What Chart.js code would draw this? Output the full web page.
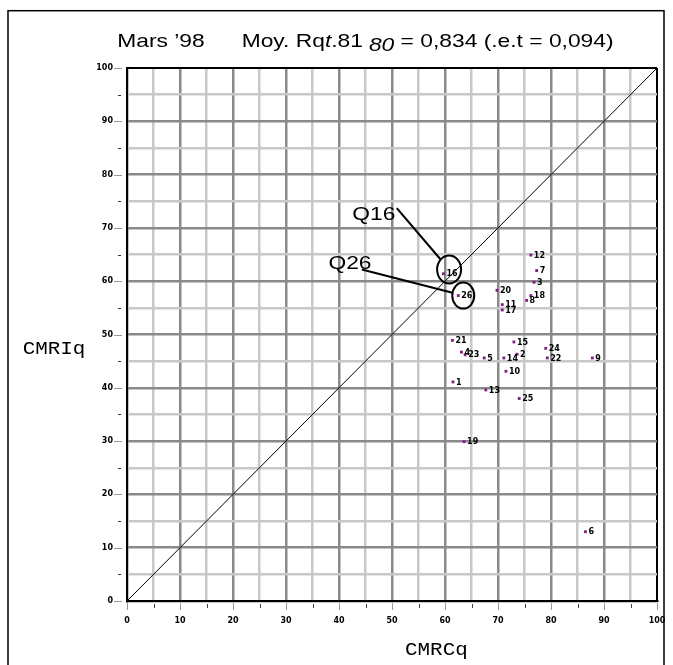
<!DOCTYPE html>
<html>
<head>
<meta charset="utf-8">
<script src="https://cdn.jsdelivr.net/npm/chart.js@4.4.1/dist/chart.umd.min.js"></script>
<style>
body { margin: 0; background: #fff; }
</style>
</head>
<body>
<canvas id="chart" width="673" height="665"></canvas>
<script>
// questions (labels of the points)
let ids = [1, 2, 3, 4, 5, 6, 7, 8, 9, 10, 11, 12, 13, 14, 15, 16, 17, 18, 19, 20, 21, 22, 23, 24, 25, 26];
// CMRCq (x) and CMRIq (y) for each question
let cmrc = [61.5, 73.6, 76.8, 63.1, 67.4, 86.5, 77.3, 75.4, 87.8, 71.5, 70.8, 76.2, 67.7, 71.1, 73.0, 59.7, 70.8, 76.2, 63.6, 69.8, 61.4, 79.3, 63.8, 79.0, 74.0, 62.5];
let cmri = [41.1, 46.3, 59.8, 46.7, 45.6, 13.0, 62.0, 56.4, 45.6, 43.1, 55.6, 64.9, 39.6, 45.6, 48.6, 61.4, 54.6, 57.3, 29.9, 58.3, 48.9, 45.6, 46.2, 47.4, 38.0, 57.3];
// diagonal x = y
let diagonal = [0, 100];
// axes
let axisMin = 0, axisMax = 100, tickStep = 5, labelStep = 10;

let titleParts = ["Mars \u201998", "Moy. Rq", "t", ".81", "80", " = 0,834 (.e.t = 0,094)"];
let xTitle = "CMRCq";
let yTitle = "CMRIq";

// circled questions with their callout text
let callouts = [
    { text: "Q16", point: 16, labelX: 42.5, labelY: 72.4, fromX: 50.9, fromY: 73.7, dx: 5.7, dy: -4.3, rx: 12, ry: 14 },
    { text: "Q26", point: 26, labelX: 38.0, labelY: 63.2, fromX: 44.3, fromY: 62.2, dx: 5, dy: 0, rx: 11, ry: 13 }
];

let points = [];
for (let i = 0; i < ids.length; i++)
{
    points.push({ x: cmrc[i], y: cmri[i], id: ids[i] });
}

const wide = 1.2;
function wideText(ctx, str, x, y, font, sx)
{
    ctx.save();
    ctx.font = font;
    ctx.translate(x, y);
    ctx.scale(sx, 1);
    ctx.fillText(str, 0, 0);
    let w = ctx.measureText(str).width * sx;
    ctx.restore();
    return w;
}

const decor = {
    id: 'decor',
    afterDraw(chart)
    {
        const ctx = chart.ctx;
        const xs = chart.scales.x, ys = chart.scales.y;

        ctx.save();
        // frame
        ctx.strokeStyle = "#000";
        ctx.lineWidth = 1.5;
        ctx.strokeRect(8, 10.7, 656, 700);

        // tick marks
        ctx.lineWidth = 1;
        ys.ticks.forEach(function(t)
        {
            let py = Math.round(ys.getPixelForValue(t.value)) + 0.5;
            ctx.beginPath();
            if (t.value % labelStep === 0) { ctx.strokeStyle = "#999"; ctx.moveTo(114, py); ctx.lineTo(122, py); }
            else { ctx.strokeStyle = "#333"; ctx.moveTo(118, py); ctx.lineTo(121, py); }
            ctx.stroke();
        });
        xs.ticks.forEach(function(t)
        {
            let px = Math.round(xs.getPixelForValue(t.value)) + 0.5;
            ctx.beginPath();
            if (t.value % labelStep === 0) { ctx.strokeStyle = "#999"; ctx.moveTo(px, 603); ctx.lineTo(px, 610); }
            else { ctx.strokeStyle = "#444"; ctx.moveTo(px, 604); ctx.lineTo(px, 608); }
            ctx.stroke();
        });

        // title
        ctx.fillStyle = "#000";
        ctx.textBaseline = "alphabetic";
        let f = '19px "Liberation Sans", Arial, sans-serif';
        let fi = 'italic 19px "Liberation Sans", Arial, sans-serif';
        wideText(ctx, titleParts[0], 117.3, 46.7, f, wide);
        let x = 241.7;
        x += wideText(ctx, titleParts[1], x, 46.7, f, wide);
        x += wideText(ctx, titleParts[2], x, 46.7, fi, wide);
        x += wideText(ctx, titleParts[3], x, 46.7, f, wide);
        x += 6;
        x += wideText(ctx, titleParts[4], x, 51.2, fi, wide);
        wideText(ctx, titleParts[5], x, 46.7, f, wide);

        // axis titles
        let mono = '19px "Liberation Mono", "Courier New", monospace';
        wideText(ctx, yTitle, 22.7, 354, mono, 1.1);
        wideText(ctx, xTitle, 405, 655, mono, 1.1);

        // point labels
        const meta = chart.getDatasetMeta(0);
        ctx.font = 'bold 8px "DejaVu Sans", sans-serif';
        ctx.textBaseline = "middle";
        meta.data.forEach(function(el, i)
        {
            ctx.fillText(String(ids[i]), el.x + 3, el.y + 0.5);
        });

        // circles and callouts
        ctx.strokeStyle = "#000";
        ctx.lineWidth = 2;
        callouts.forEach(function(c)
        {
            const el = meta.data[ids.indexOf(c.point)];
            let cx = el.x + c.dx, cy = el.y + c.dy;
            ctx.beginPath();
            ctx.ellipse(cx, cy, c.rx, c.ry, 0, 0, 2 * Math.PI);
            ctx.stroke();

            let sx = xs.getPixelForValue(c.fromX), sy = ys.getPixelForValue(c.fromY);
            let ddx = sx - cx, ddy = sy - cy;
            let s = 1 / Math.sqrt((ddx / c.rx) * (ddx / c.rx) + (ddy / c.ry) * (ddy / c.ry));
            ctx.beginPath();
            ctx.moveTo(sx, sy);
            ctx.lineTo(cx + ddx * s, cy + ddy * s);
            ctx.stroke();

            wideText(ctx, c.text, xs.getPixelForValue(c.labelX), ys.getPixelForValue(c.labelY), '19px "Liberation Sans", Arial, sans-serif', wide);
        });
        ctx.restore();
    }
};

function gridColor(c)
{
    let v = c.tick.value;
    if (v === axisMax) return "#000";
    return v % labelStep === 0 ? "#8a8a8a" : "#c8c8c8";
}
function gridWidth(c)
{
    return c.tick.value === axisMax ? 2 : 2.5;
}
function tickLabel(v)
{
    return v % labelStep === 0 ? v : "";
}

let myChart = document.getElementById("chart").getContext("2d");
let display = new Chart(myChart,
{
    type: 'scatter',
    data:
    {
        datasets: [
            {
                label: "Questions",
                data: points,
                pointStyle: "rect",
                pointRadius: 2,
                pointBorderWidth: 0,
                backgroundColor: "#861a86",
                borderColor: "#861a86"
            },
            {
                type: 'line',
                label: "x = y",
                data: [{ x: diagonal[0], y: diagonal[0] }, { x: diagonal[1], y: diagonal[1] }],
                borderColor: "#000",
                borderWidth: 1,
                pointRadius: 0,
                fill: false
            }
        ]
    },
    options:
    {
        responsive: false,
        animation: false,
        layout: { padding: { left: 0, top: 68, right: 16, bottom: 0 } },
        plugins: {
            legend: { display: false },
            tooltip: { enabled: false },
            title: { display: false }
        },
        scales: {
            x: {
                type: 'linear',
                min: axisMin,
                max: axisMax,
                ticks: {
                    stepSize: tickStep,
                    autoSkip: false,
                    maxRotation: 0,
                    padding: 15,
                    color: "#000",
                    font: { family: "DejaVu Sans", size: 8, weight: "bold" },
                    callback: tickLabel
                },
                grid: { color: gridColor, lineWidth: gridWidth, drawTicks: false },
                border: { color: "#000", width: 2 },
                afterFit: function(scale)
                {
                    scale.height = 64;
                    scale.paddingLeft = 0;
                    scale.paddingRight = 0;
                }
            },
            y: {
                type: 'linear',
                min: axisMin,
                max: axisMax,
                ticks: {
                    stepSize: tickStep,
                    autoSkip: false,
                    padding: 14,
                    color: "#000",
                    font: { family: "DejaVu Sans", size: 8, weight: "bold" },
                    callback: tickLabel
                },
                grid: { color: gridColor, lineWidth: gridWidth, drawTicks: false },
                border: { color: "#000", width: 2 },
                afterFit: function(scale)
                {
                    scale.width = 127;
                    scale.paddingTop = 0;
                    scale.paddingBottom = 0;
                }
            }
        }
    },
    plugins: [decor]
});
</script>
</body>
</html>
